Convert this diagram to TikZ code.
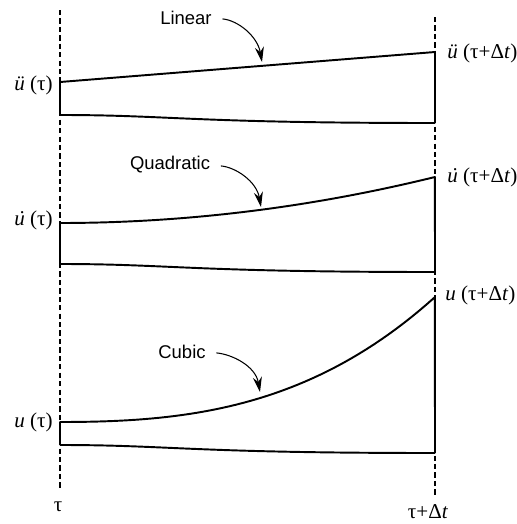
\documentclass[tikz,border=0pt]{standalone}
\usepackage{fontspec}
\setmainfont{Liberation Serif}
\setsansfont{Liberation Sans}
\usetikzlibrary{arrows.meta}
\newcommand{\udot}{{\itshape\rlap{\hspace{0.14em}˙}u}}
\tikzset{
  % solid curve of a variable over the step
  curve/.style   = {line width=1.1pt, line join=round},
  % time step boundary
  bound/.style   = {line width=0.9pt, dash pattern=on 3pt off 1.8pt},
  % value labels
  val/.style     = {font=\fontsize{12}{14}\selectfont, inner sep=0pt},
  % name of the interpolation
  kind/.style    = {font=\sffamily\fontsize{10.5}{12}\selectfont, inner sep=0pt},
  % pointer from a name to its curve
  pointer/.style = {-{Stealth[length=3mm,width=1.8mm]}, line width=0.6pt, shorten <=6pt},
}

\begin{document}
\begin{tikzpicture}[x=0.02cm, y=-0.02cm]
  \useasboundingbox (0,0) rectangle (517,524);

  % --- step boundaries ---
  \coordinate (t0top) at (60,10);
  \coordinate (t0bot) at (60,490);
  \coordinate (t1top) at (435,17);
  \coordinate (t1bot) at (435,495);
  \draw[bound] (t0top) -- (t0bot);
  \draw[bound] (t1top) -- (t1bot);

  \node[val] (tau0) at (58,507) {τ};
  \node[val] (tau1) at (428,512) {τ+Δ\textit{t}};

  % --- acceleration: linear ---
  \coordinate (a0) at (60,82);   \coordinate (a1) at (435,52);
  \coordinate (a0b) at (60,115); \coordinate (a1b) at (435,123);
  \draw[curve] (a0b) -- (a0) -- (a1) -- (a1b);
  \draw[curve] (a0b) .. controls (170,115) and (190,123) .. (a1b);

  \node[val, anchor=east] (a0lbl) at (53,85) {\textit{ü} (τ)};
  \node[val, anchor=west] (a1lbl) at (447,53) {\textit{ü} (τ+Δ\textit{t})};

  \node[kind] (lin) at (186,18) {Linear};
  \coordinate (linTip) at (262,62);
  \draw[pointer] (lin.east) to[out=-5, in=100] (linTip);

  % --- velocity: quadratic ---
  \coordinate (v0) at (60,223);  \coordinate (v1) at (435,177);
  \coordinate (v0b) at (60,264); \coordinate (v1b) at (435,272);
  \draw[curve] (v0b) -- (v0)
    -- plot[domain=0:1, samples=40] ({60+375*\x},{223-46*\x*\x}) -- (v1b);
  \draw[curve] (v0b) .. controls (170,264) and (190,272) .. (v1b);

  \node[val, anchor=east] (v0lbl) at (53,220) {\udot{} (τ)};
  \node[val, anchor=west] (v1lbl) at (447,177) {\udot{} (τ+Δ\textit{t})};

  \node[kind] (quad) at (170,165) {Quadratic};
  \coordinate (quadTip) at (261,207);
  \draw[pointer] (quad.east) to[out=-5, in=100] (quadTip);

  % --- displacement: cubic ---
  \coordinate (d0) at (60,422);  \coordinate (d1) at (435,297);
  \coordinate (d0b) at (60,445); \coordinate (d1b) at (435,453);
  \draw[curve] (d0b) -- (d0)
    -- plot[domain=0:1, samples=50] ({60+375*\x},{422-125*(0.3*\x*\x+0.7*\x*\x*\x)}) -- (d1b);
  \draw[curve] (d0b) .. controls (170,445) and (190,453) .. (d1b);

  \node[val, anchor=east] (d0lbl) at (53,422) {\textit{u} (τ)};
  \node[val, anchor=west] (d1lbl) at (445,295) {\textit{u} (τ+Δ\textit{t})};

  \node[kind] (cub) at (182,352) {Cubic};
  \coordinate (cubTip) at (260,392);
  \draw[pointer] (cub.east) to[out=-5, in=100] (cubTip);

\end{tikzpicture}
\end{document}
